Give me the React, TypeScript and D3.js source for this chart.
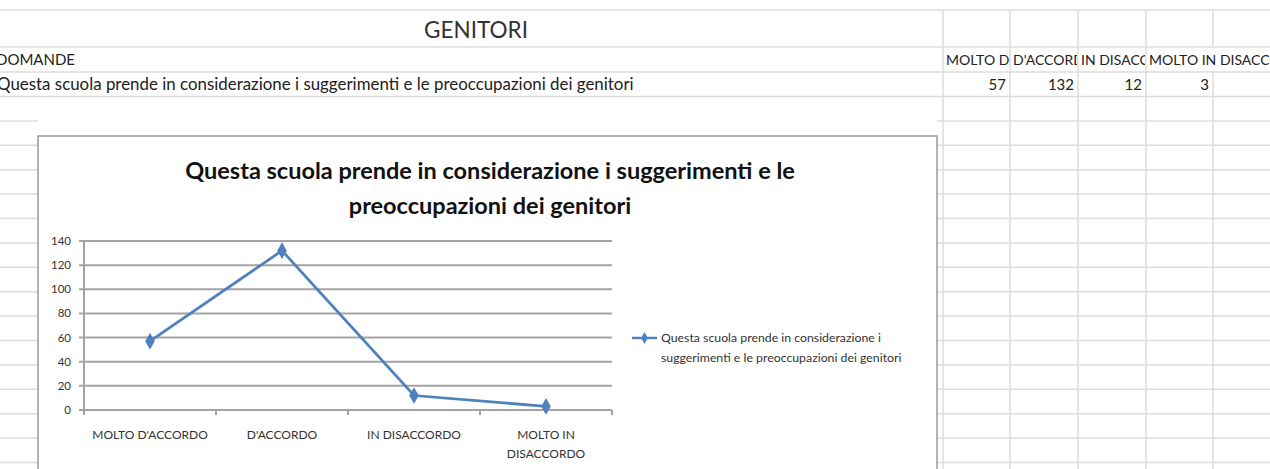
import React from "react";
import * as d3 from "d3";

const categories = ["MOLTO D'ACCORDO", "D'ACCORDO", "IN DISACCORDO", "MOLTO IN DISACCORDO"];
const axisLabels = [["MOLTO D'ACCORDO"], ["D'ACCORDO"], ["IN DISACCORDO"], ["MOLTO IN", "DISACCORDO"]];
const values = [57, 132, 12, 3];
const yTicks = [0, 20, 40, 60, 80, 100, 120, 140];
const question = "Questa scuola prende in considerazione i suggerimenti e le preoccupazioni dei genitori";

const W = 1270;
const H = 469;
const font = "Lato, 'Open Sans', sans-serif";
const blue = "#4f81bd";
const cellGrid = "#dcdcdc";
const plotGrid = "#a3a3a3";

const colX = [943, 1010, 1078, 1146, 1213];
const rowY = [10, 47, 72, 96.5];
for (let i = 1; i < 16; i++) rowY.push(96.5 + i * 24.4);

const box = { left: 38, top: 136, right: 937 };

const App = () => {
  const x = d3.scaleBand().domain(categories).range([84, 612]);
  const y = d3.scaleLinear().domain([0, 140]).range([410, 241]);
  const cx = (i: number) => x(categories[i])! + x.bandwidth() / 2;
  const line = d3
    .line<number>()
    .x((d, i) => cx(i))
    .y((d) => y(d));
  const diamond = d3.symbol().type(d3.symbolDiamond).size(80)();

  return (
    <svg width={W} height={H} style={{ position: "absolute", left: 0, top: 0, background: "#fff" }}>
      <defs>
        {colX.slice(0, 3).map((c, i) => (
          <clipPath id={`cell${i}`} key={i}>
            <rect x={c} y={47} width={colX[i + 1] - c - 1} height={25} />
          </clipPath>
        ))}
      </defs>

      {/* spreadsheet grid */}
      {rowY.map((ry, i) => (
        <g key={i}>
          {i < 4 ? (
            <line x1={0} x2={W} y1={ry} y2={ry} stroke={cellGrid} strokeWidth={1.5} />
          ) : (
            <>
              <line x1={0} x2={box.left} y1={ry} y2={ry} stroke={cellGrid} strokeWidth={1.5} />
              <line x1={box.right} x2={W} y1={ry} y2={ry} stroke={cellGrid} strokeWidth={1.5} />
            </>
          )}
        </g>
      ))}
      {colX.map((c, i) => (
        <g key={i}>
          {i === 4 ? (
            <>
              <line x1={c} x2={c} y1={10} y2={47} stroke={cellGrid} strokeWidth={1.5} />
              <line x1={c} x2={c} y1={72} y2={H} stroke={cellGrid} strokeWidth={1.5} />
            </>
          ) : (
            <line x1={c} x2={c} y1={10} y2={H} stroke={cellGrid} strokeWidth={1.5} />
          )}
        </g>
      ))}

      <text x={476} y={38} textAnchor="middle" fontFamily={font} fontSize={22.5} fill="#333">
        GENITORI
      </text>
      <text x={-4} y={65} fontFamily={font} fontSize={15} fill="#222">
        DOMANDE
      </text>
      <text x={-3} y={90} fontFamily={font} fontSize={16.9} fill="#222">
        {question}
      </text>
      {categories.map((c, i) => (
        <text
          key={c}
          x={colX[i] + 3}
          y={65}
          fontFamily={font}
          fontSize={14}
          fill="#222"
          clipPath={i < 3 ? `url(#cell${i})` : undefined}
        >
          {c}
        </text>
      ))}
      {values.map((v, i) => (
        <text key={i} x={colX[i + 1] - 4} y={90} textAnchor="end" fontFamily={font} fontSize={15} fill="#222">
          {v}
        </text>
      ))}

      {/* chart box */}
      <rect x={box.left} y={box.top} width={box.right - box.left} height={H} fill="#fff" stroke="#9a9a9a" strokeWidth={1.5} />

      <text textAnchor="middle" fontFamily={font} fontWeight="bold" fontSize={23.5} fill="#111">
        <tspan x={490} y={179}>Questa scuola prende in considerazione i suggerimenti e le</tspan>
        <tspan x={490} y={214}>preoccupazioni dei genitori</tspan>
      </text>

      {yTicks.map((t) => (
        <g key={t}>
          <line x1={79} x2={612} y1={y(t)} y2={y(t)} stroke={plotGrid} strokeWidth={2} />
          <text x={71} y={y(t) + 4} textAnchor="end" fontFamily={font} fontSize={11.5} fill="#333">
            {t}
          </text>
        </g>
      ))}
      <line x1={84} x2={84} y1={y(140)} y2={y(0) + 5} stroke={plotGrid} strokeWidth={2} />
      {[...categories.map((c) => x(c)!), 612].map((tx, i) => (
        <line key={i} x1={tx} x2={tx} y1={y(0)} y2={y(0) + 5} stroke={plotGrid} strokeWidth={2} />
      ))}
      {axisLabels.map((lines, i) => (
        <text key={i} textAnchor="middle" fontFamily={font} fontSize={12} fill="#333">
          {lines.map((l, j) => (
            <tspan key={j} x={cx(i)} y={439 + j * 19}>
              {l}
            </tspan>
          ))}
        </text>
      ))}

      <path d={line(values) ?? ""} fill="none" stroke={blue} strokeWidth={2.75} />
      {values.map((v, i) => (
        <path key={i} d={diamond} transform={`translate(${cx(i)},${y(v)})`} fill={blue} />
      ))}

      {/* legend */}
      <line x1={632} x2={657} y1={338} y2={338} stroke={blue} strokeWidth={2.5} />
      <path d={d3.symbol().type(d3.symbolDiamond).size(40)()} transform="translate(644.5,338)" fill={blue} />
      <text fontFamily={font} fontSize={12.3} fill="#333">
        <tspan x={661} y={342}>Questa scuola prende in considerazione i</tspan>
        <tspan x={661} y={362}>suggerimenti e le preoccupazioni dei genitori</tspan>
      </text>
    </svg>
  );
};

export default App;
